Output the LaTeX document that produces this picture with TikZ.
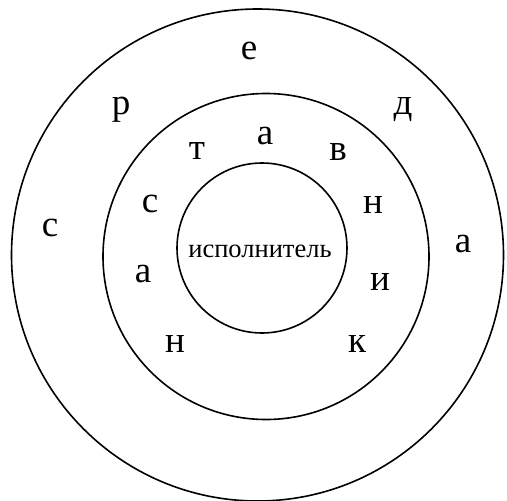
\documentclass[tikz,border=0pt]{standalone}
\usepackage{fontspec}
\setmainfont{LiberationSerif-Regular}[Extension=.ttf]
\usetikzlibrary{positioning}

\begin{document}
\begin{tikzpicture}[x=1pt,y=-1pt,
          every node/.style={inner sep=0pt,anchor=base},
          ring/.style={draw=black,line width=1.6pt},
          letter/.style={font=\fontsize{37pt}{40pt}\selectfont},
          word/.style={font=\fontsize{26.5pt}{30pt}\selectfont},
        ]
        \useasboundingbox (0,0) rectangle (507,501);
        % rings
        \draw[ring] (257.5,255) circle[radius=246];
        \draw[ring] (266,256.5) circle[radius=163];
        \draw[ring] (262,248) circle[radius=85];
        % outer ring: среда
        \node[letter] (o1) at (50,236)  {с};
        \node[letter] (o2) at (121,114) {р};
        \node[letter] (o3) at (249,59)  {е};
        \node[letter] (o4) at (403,114) {д};
        \node[letter] (o5) at (463,252) {а};
        % middle ring: наставник
        \node[letter] (m1) at (175,352) {н};
        \node[letter] (m2) at (143,282) {а};
        \node[letter] (m3) at (150,212) {с};
        \node[letter] (m4) at (197,159) {т};
        \node[letter] (m5) at (265,144) {а};
        \node[letter] (m6) at (338,160) {в};
        \node[letter] (m7) at (373,213) {н};
        \node[letter] (m8) at (380,290) {и};
        \node[letter] (m9) at (357,352) {к};
        % centre
        \node[word] (core) at (260,257) {исполнитель};
      \end{tikzpicture}
\end{document}
